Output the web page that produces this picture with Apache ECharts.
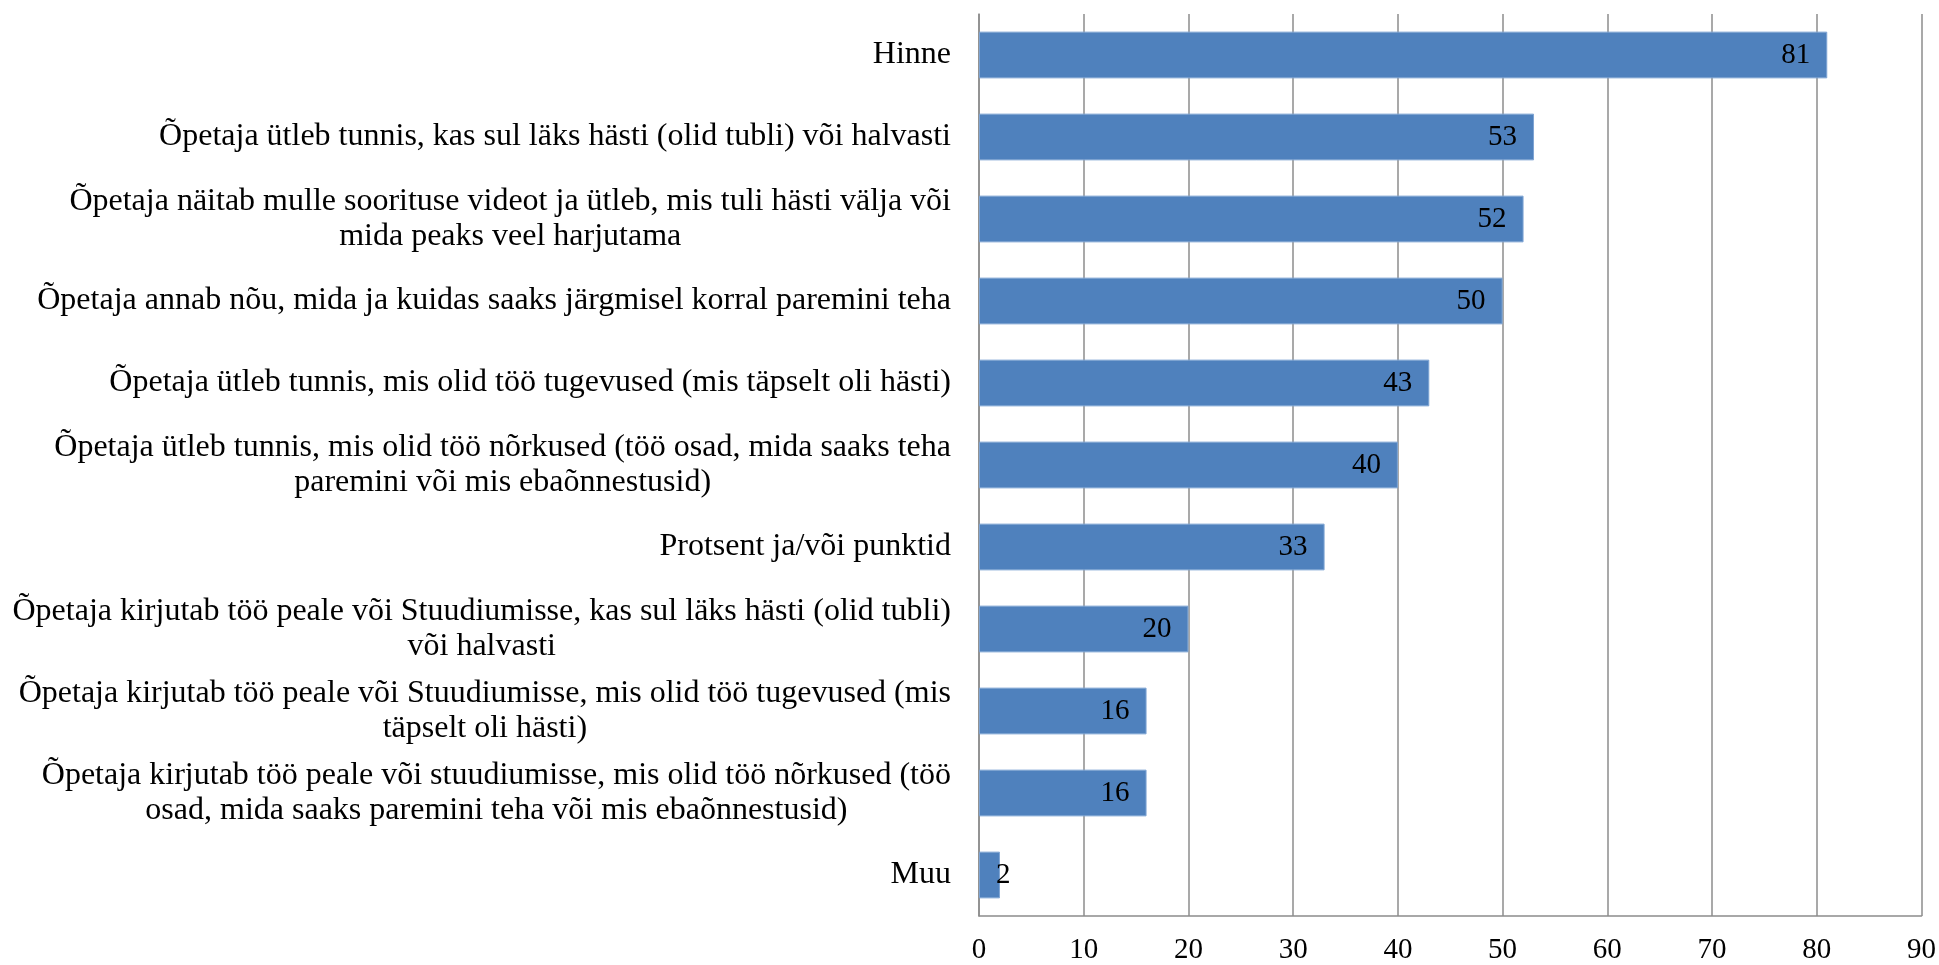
<!DOCTYPE html>
<html lang="et">
<head>
	<meta charset="UTF-8">
	<script src="https://cdn.jsdelivr.net/npm/echarts@6/dist/echarts.min.js"></script>
	<title>Tagasiside</title>
	<style>
		html, body { margin: 0; padding: 0; background: #fff; }
	</style>
</head>
<body>
	<div id="main" style="width: 1939px;height:965px;"></div>

	<script>
		// kategooriad (ülevalt alla), read eraldatud \n
		var categories = [
			'Hinne',
			'Õpetaja ütleb tunnis, kas sul läks hästi (olid tubli) või halvasti',
			'Õpetaja näitab mulle soorituse videot ja ütleb, mis tuli hästi välja või\nmida peaks veel harjutama',
			'Õpetaja annab nõu, mida ja kuidas saaks järgmisel korral paremini teha',
			'Õpetaja ütleb tunnis, mis olid töö tugevused (mis täpselt oli hästi)',
			'Õpetaja ütleb tunnis, mis olid töö nõrkused (töö osad, mida saaks teha\nparemini või mis ebaõnnestusid)',
			'Protsent ja/või punktid',
			'Õpetaja kirjutab töö peale või Stuudiumisse, kas sul läks hästi (olid tubli)\nvõi halvasti',
			'Õpetaja kirjutab töö peale või Stuudiumisse, mis olid töö tugevused (mis\ntäpselt oli hästi)',
			'Õpetaja kirjutab töö peale või stuudiumisse, mis olid töö nõrkused (töö\nosad, mida saaks paremini teha või mis ebaõnnestusid)',
			'Muu'
		];
		var values = [81, 53, 52, 50, 43, 40, 33, 20, 16, 16, 2];
		var xTicks = [0, 10, 20, 30, 40, 50, 60, 70, 80, 90];

		var chart = echarts.init(document.getElementById('main'));

		var gridColor = '#8c8c8c';
		var numFont = 'Liberation Serif';

		var option = {
			animation: false,
			backgroundColor: '#ffffff',
			grid: {
				left: 979,
				right: 17,
				top: 14,
				bottom: 46,
				containLabel: false
			},
			xAxis: {
				type: 'value',
				min: xTicks[0],
				max: xTicks[xTicks.length - 1],
				interval: 10,
				axisLine: { show: true, lineStyle: { color: gridColor, width: 1.5 } },
				axisTick: { show: false },
				splitLine: { show: true, lineStyle: { color: gridColor, width: 1.5 } },
				axisLabel: {
					margin: 20,
					fontFamily: numFont,
					fontSize: 29,
					color: '#000'
				}
			},
			yAxis: {
				type: 'category',
				inverse: true,
				data: categories,
				axisLine: { show: true, lineStyle: { color: gridColor, width: 1.5 } },
				axisTick: { show: false },
				axisLabel: {
					margin: 28,
					align: 'right',
					fontFamily: 'Liberation Serif',
					fontSize: 32,
					lineHeight: 35,
					color: '#000',
					formatter: function (v) {
						return v.split('\n').map(function (s) { return '{c|' + s + '}'; }).join('\n');
					},
					rich: {
						c: {
							align: 'center',
							fontFamily: 'Liberation Serif',
							fontSize: 32,
							lineHeight: 35,
							color: '#000'
						}
					}
				}
			},
			series: [{
				type: 'bar',
				data: values.map(function (v) {
					if (v < 5) {
						return { value: v, label: { position: 'right', distance: -4 } };
					}
					return v;
				}),
				barCategoryGap: '43%',
				itemStyle: { color: '#4f81bd', borderColor: '#7ea4d3', borderWidth: 1 },
				label: {
					show: true,
					position: 'insideRight',
					distance: 17,
					fontFamily: numFont,
					fontSize: 29,
					color: '#000'
				}
			}]
		};

		chart.setOption(option);
	</script>
</body>
</html>
